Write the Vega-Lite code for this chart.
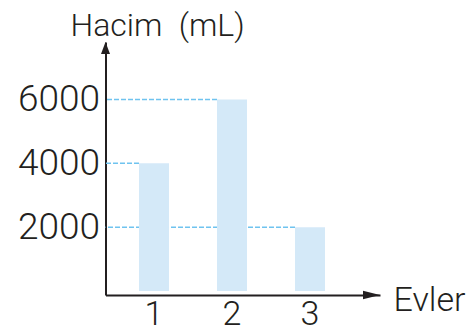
{
  "$schema": "https://vega.github.io/schema/vega-lite/v6.json",
  "width": 274.5,
  "height": 253,
  "autosize": "none",
  "padding": {"left": 105.5, "top": 42, "right": 89, "bottom": 37},
  "background": "white",
  "config": {"view": {"stroke": null}, "font": "Roboto"},
  "data": {"values": [
    {"ev": "1", "hacim": 4000},
    {"ev": "2", "hacim": 6000},
    {"ev": "3", "hacim": 2000}
  ]},
  "layer": [
    {
      "mark": {"type": "rule", "color": "#6fc3ef", "strokeDash": [5, 2], "strokeWidth": 1.5},
      "encoding": {
        "x": {"field": "ev", "type": "nominal", "bandPosition": 0,
          "scale": {"paddingInner": 0.6154, "paddingOuter": 0.567, "align": 0.3785},
          "axis": {"title": "Evler", "titleAlign": "left", "titleBaseline": "alphabetic", "titleX": 287.5, "titleY": 15, "titleFontSize": 34, "titleFontWeight": 300, "titleColor": "#231f20", "labelAngle": 0, "labelFontSize": 34, "labelFontWeight": 300, "labelColor": "#231f20", "labelPadding": 2, "ticks": false, "domainColor": "#231f20", "domainWidth": 2}},
        "x2": {"value": 0},
        "y": {"field": "hacim", "type": "quantitative",
          "scale": {"domain": [-125, 7800], "nice": false},
          "axis": {"title": "Hacim\u2002(mL)", "format": "d", "titleAngle": 0, "titleAlign": "left", "titleBaseline": "alphabetic", "titleX": -35.5, "titleY": -7, "titleFontSize": 32, "titleFontWeight": 300, "titleColor": "#231f20", "values": [2000, 4000, 6000], "ticks": false, "grid": false, "domainColor": "#231f20", "domainWidth": 2, "labelFontSize": 37, "labelFontWeight": 300, "labelColor": "#231f20", "labelPadding": 6}}
      }
    },
    {
      "mark": {"type": "bar", "color": "#d4e9f8"},
      "encoding": {
        "x": {"field": "ev", "type": "nominal",
          "scale": {"paddingInner": 0.6154, "paddingOuter": 0.567, "align": 0.3785},
          "axis": {"title": "Evler", "titleAlign": "left", "titleBaseline": "alphabetic", "titleX": 287.5, "titleY": 15, "titleFontSize": 34, "titleFontWeight": 300, "titleColor": "#231f20", "labelAngle": 0, "labelFontSize": 34, "labelFontWeight": 300, "labelColor": "#231f20", "labelPadding": 2, "ticks": false, "domainColor": "#231f20", "domainWidth": 2}},
        "y": {"field": "hacim", "type": "quantitative",
          "scale": {"domain": [-125, 7800], "nice": false},
          "axis": {"title": "Hacim\u2002(mL)", "format": "d", "titleAngle": 0, "titleAlign": "left", "titleBaseline": "alphabetic", "titleX": -35.5, "titleY": -7, "titleFontSize": 32, "titleFontWeight": 300, "titleColor": "#231f20", "values": [2000, 4000, 6000], "ticks": false, "grid": false, "domainColor": "#231f20", "domainWidth": 2, "labelFontSize": 37, "labelFontWeight": 300, "labelColor": "#231f20", "labelPadding": 6}}
      }
    },
    {
      "data": {"values": [{"ok": 1}]},
      "mark": {"type": "point", "shape": "M0,0L0.375,1L-0.375,1Z", "size": 576, "filled": true, "color": "#231f20", "opacity": 1, "strokeWidth": 0},
      "encoding": {"x": {"value": 0}, "y": {"datum": 7800, "type": "quantitative"}}
    },
    {
      "data": {"values": [{"ok": 1}]},
      "mark": {"type": "point", "shape": "M0,0L-1,-0.25L-1,0.25Z", "size": 1156, "filled": true, "color": "#231f20", "opacity": 1, "strokeWidth": 0},
      "encoding": {"x": {"value": "width"}, "y": {"datum": -125, "type": "quantitative"}}
    }
  ]
}
